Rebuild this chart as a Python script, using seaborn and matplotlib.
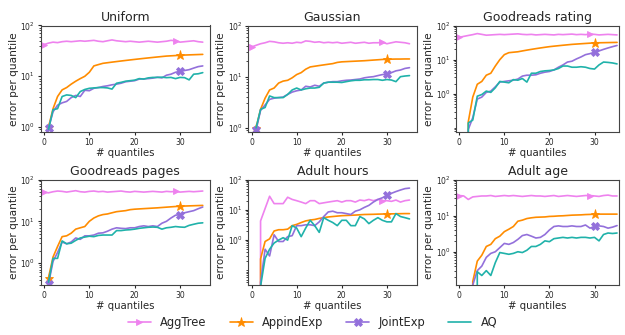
import numpy as np
import pandas as pd
import matplotlib
matplotlib.use("Agg")
import matplotlib.pyplot as plt
import seaborn as sns
from matplotlib.ticker import FixedLocator, NullFormatter, LogFormatterSciNotation

titles = ["Uniform", "Gaussian", "Goodreads rating", "Goodreads pages", "Adult hours", "Adult age"]
series_names = ["AggTree", "AppindExp", "JointExp", "AQ"]
x_agg = list(range(0, 36))
x_other = list(range(1, 36))

aggtree = [
    [42, 45, 47, 46, 48, 49, 48, 49, 50, 49, 50, 51, 49, 48, 50, 52, 50, 49, 48, 49, 48, 47, 48, 49, 48, 47, 48, 49, 51, 50, 47, 48, 49, 50, 48, 47],
    [38, 41, 44, 46, 49, 48, 46, 45, 46, 45, 47, 46, 50, 49, 47, 48, 46, 47, 46, 47, 45, 46, 47, 45, 46, 47, 45, 46, 46, 47, 44, 46, 48, 47, 46, 44],
    [45, 48, 51, 54, 58, 55, 52, 53, 54, 55, 54, 55, 56, 57, 55, 54, 55, 53, 54, 55, 54, 53, 55, 54, 55, 56, 54, 55, 54, 56, 55, 53, 54, 55, 54, 53],
    [50, 48, 51, 53, 52, 50, 52, 54, 51, 50, 52, 53, 51, 52, 50, 51, 52, 53, 51, 50, 52, 51, 50, 51, 52, 51, 50, 52, 51, 52, 50, 51, 52, 51, 52, 53],
    [0, 0, 4.3, 11, 28, 16, 16, 16, 26, 22, 20, 18, 16, 20, 20, 16, 17, 18, 19, 20, 18, 20, 20, 18, 21, 20, 22, 20, 22, 20, 20, 19, 21, 18, 20, 21],
    [36, 35, 28, 33, 34, 35, 35, 36, 34, 35, 36, 35, 36, 35, 34, 35, 36, 35, 35, 34, 35, 36, 34, 35, 36, 35, 34, 35, 36, 36, 35, 34, 36, 37, 35, 35],
]

appindexp = [
    [1.0, 2.3, 4.0, 5.4, 6.0, 7.0, 8.0, 9.0, 10.0, 12.0, 16.0, 17.0, 18.0, 18.5, 19.0, 19.5, 20.0, 20.5, 21.0, 21.5, 22.0, 22.5, 23.0, 23.5, 24.0, 24.5, 25.0, 25.3, 25.6, 26.0, 26.2, 26.4, 26.6, 26.8, 27.0],
    [1.0, 2.3, 3.8, 5.5, 6.0, 7.5, 8.2, 8.5, 9.5, 11.0, 12.0, 14.0, 15.5, 16.0, 16.5, 17.0, 17.5, 18.0, 19.0, 19.5, 19.7, 19.9, 20.1, 20.3, 20.5, 20.8, 21.1, 21.4, 21.7, 22.0, 22.0, 22.1, 22.1, 22.2, 22.2],
    [0, 0.15, 0.8, 1.9, 2.3, 3.5, 4.0, 6.5, 10.0, 14.0, 16.0, 16.5, 17.0, 18.0, 19.0, 20.0, 21.0, 22.0, 23.0, 24.0, 24.8, 25.6, 26.4, 27.2, 28.0, 28.6, 29.2, 29.8, 30.4, 31.0, 31.2, 31.4, 31.6, 31.8, 32.0],
    [0.45, 1.4, 2.5, 4.3, 4.5, 5.2, 6.5, 7.0, 7.5, 10.0, 12.0, 13.5, 14.5, 15.0, 16.0, 17.0, 17.5, 18.0, 19.0, 19.5, 19.8, 20.1, 20.4, 20.7, 21.0, 21.4, 21.8, 22.2, 22.6, 23.0, 23.2, 23.4, 23.6, 23.8, 24.0],
    [0, 0.24, 0.9, 1.1, 2.0, 2.2, 2.2, 2.3, 3.0, 3.3, 3.8, 4.3, 4.6, 4.8, 5.2, 5.5, 5.8, 6.0, 6.2, 6.4, 6.5, 6.6, 6.7, 6.85, 7.0, 7.05, 7.1, 7.2, 7.25, 7.3, 7.35, 7.4, 7.45, 7.5, 7.5],
    [0, 0, 0.15, 0.55, 0.8, 1.4, 1.6, 2.3, 2.7, 3.6, 4.2, 5.0, 7.0, 7.5, 8.3, 8.7, 9.0, 9.1, 9.2, 9.5, 9.6, 9.8, 9.9, 10.1, 10.3, 10.4, 10.5, 10.7, 10.8, 11.0, 11.0, 11.0, 11.0, 11.0, 11.0],
]

jointexp = [
    [0.95, 2.0, 2.7, 3.0, 3.2, 3.8, 4.2, 4.0, 5.3, 5.2, 5.8, 6.0, 6.3, 6.5, 6.8, 7.0, 7.3, 7.8, 8.0, 8.2, 8.8, 8.9, 9.0, 9.2, 9.6, 9.3, 10.5, 11.0, 12.0, 12.5, 13.0, 13.5, 14.5, 15.5, 16.0],
    [0.9, 2.2, 2.8, 3.6, 3.8, 3.9, 4.0, 4.5, 5.0, 5.3, 5.5, 6.5, 6.3, 6.8, 6.5, 7.5, 7.8, 8.0, 8.0, 8.3, 8.5, 8.6, 8.8, 9.0, 9.5, 9.8, 10.0, 10.5, 11.0, 11.2, 12.0, 13.0, 13.5, 14.5, 15.0],
    [0, 0.09, 0.2, 0.7, 0.8, 1.1, 1.2, 1.6, 2.2, 2.3, 2.4, 2.5, 2.7, 3.3, 3.5, 3.5, 3.6, 4.0, 4.3, 4.5, 5.0, 6.0, 7.0, 8.5, 9.0, 10.5, 12.0, 14.0, 15.0, 16.5, 18.0, 20.0, 22.0, 24.0, 26.0],
    [0.32, 1.1, 1.8, 3.2, 2.9, 3.2, 4.0, 3.7, 4.5, 4.5, 4.7, 5.2, 5.3, 5.8, 6.5, 7.0, 6.8, 6.7, 7.0, 7.0, 7.5, 7.8, 7.5, 7.8, 7.5, 9.0, 10.0, 12.0, 14.0, 14.5, 16.0, 17.0, 18.0, 20.0, 22.0],
    [0, 0.04, 0.5, 0.3, 1.5, 0.9, 0.9, 1.3, 1.4, 3.0, 3.0, 3.2, 3.2, 3.0, 4.0, 6.0, 8.5, 9.0, 8.0, 8.0, 7.5, 7.0, 9.0, 10.0, 12.0, 14.0, 18.0, 22.0, 25.0, 30.0, 35.0, 40.0, 45.0, 50.0, 52.0],
    [0, 0, 0.12, 0.3, 0.4, 0.7, 0.9, 1.0, 1.3, 1.7, 1.6, 1.8, 2.2, 2.8, 3.0, 2.7, 2.4, 2.5, 3.0, 4.0, 5.0, 5.2, 5.0, 5.0, 5.2, 5.0, 5.0, 5.5, 4.5, 5.0, 5.2, 5.0, 4.5, 4.8, 5.3],
]

aq = [
    [0.9, 2.2, 2.3, 4.0, 4.3, 4.2, 3.8, 5.0, 5.5, 5.8, 5.9, 6.0, 6.0, 5.9, 5.6, 7.3, 7.6, 8.0, 8.2, 8.4, 9.0, 8.8, 9.3, 9.5, 9.5, 9.6, 9.4, 9.5, 9.0, 9.5, 9.4, 8.5, 11.0, 11.2, 11.8],
    [1.0, 2.3, 2.5, 4.2, 3.9, 3.9, 3.9, 4.5, 5.5, 6.0, 5.5, 5.8, 6.0, 6.0, 6.2, 7.5, 7.8, 7.8, 7.8, 7.7, 8.0, 8.3, 8.5, 8.5, 8.7, 8.7, 8.8, 8.8, 8.5, 8.8, 8.6, 8.0, 10.0, 10.3, 10.5],
    [0, 0.14, 0.17, 0.85, 0.95, 1.2, 1.1, 1.5, 2.3, 2.2, 2.1, 2.6, 2.5, 2.8, 2.2, 4.0, 4.0, 4.5, 4.7, 4.8, 5.0, 5.5, 6.5, 6.5, 6.0, 6.0, 6.2, 6.0, 5.5, 5.3, 7.0, 8.5, 8.3, 8.0, 7.5],
    [0.35, 1.3, 1.3, 3.4, 2.9, 3.0, 3.5, 4.0, 4.2, 4.4, 4.3, 4.6, 4.7, 4.7, 4.7, 6.0, 6.0, 6.2, 6.3, 6.5, 6.8, 7.0, 7.2, 7.3, 7.2, 6.5, 7.0, 7.2, 7.5, 7.3, 7.2, 8.0, 8.5, 9.0, 9.2],
    [0, 0.03, 0.25, 0.5, 0.8, 1.0, 1.2, 1.0, 3.0, 2.5, 1.3, 2.5, 4.5, 3.0, 1.8, 5.5, 4.5, 3.8, 3.0, 4.5, 4.5, 3.0, 3.0, 6.0, 5.0, 3.5, 4.5, 5.5, 4.5, 4.0, 4.0, 7.5, 6.0, 5.5, 5.0],
    [0, 0, 0, 0.28, 0.22, 0.3, 0.22, 0.5, 0.95, 0.9, 0.85, 0.9, 1.0, 0.95, 1.1, 1.4, 1.4, 1.6, 2.0, 1.9, 2.3, 2.4, 2.5, 2.4, 2.5, 2.4, 2.5, 2.5, 2.4, 2.5, 2.0, 3.0, 3.3, 3.2, 3.3],
]

ybottoms = [0.8, 0.83, 0.076, 0.3, 0.033, 0.12]
major_yticks = [1, 10, 100]

colors = {"AggTree": "#ee82ee", "AppindExp": "#ff8c00", "JointExp": "#9370db", "AQ": "#20b2aa"}
markers = {"AggTree": ">", "AppindExp": "*", "JointExp": "X", "AQ": None}
msizes = {"AggTree": 5, "AppindExp": 6.5, "JointExp": 5.5}

sns.set_style("ticks")
plt.rcParams["font.family"] = ["DejaVu Sans"]

W, H = 625, 335
fig = plt.figure(figsize=(6.25, 3.35), dpi=100)
col_boxes = [(40.7, 169.3, 36.6), (248.3, 168.4, 36.6), (456.0, 163.3, 35.5)]
row_boxes = [(25.5, 106.5), (179.5, 105.5)]
axes = []
for r in range(2):
    for c in range(3):
        l, w, xr = col_boxes[c]
        t, h = row_boxes[r]
        ax = fig.add_axes([l / W, 1 - (t + h) / H, w / W, h / H])
        axes.append((ax, xr))

minor_vals = [m * 10.0 ** e for e in range(-3, 3) for m in range(1, 10) if m * 10.0 ** e not in major_yticks]

for i, (ax, xr) in enumerate(axes):
    data_map = {
        "AggTree": (x_agg, aggtree[i]),
        "AppindExp": (x_other, appindexp[i]),
        "JointExp": (x_other, jointexp[i]),
        "AQ": (x_other, aq[i]),
    }
    for name in series_names:
        xs, ys = data_map[name]
        df = pd.DataFrame({"x": xs, "y": ys})
        if markers[name]:
            kw = dict(marker=markers[name], markevery=[0, 29], markersize=msizes[name],
                      markeredgecolor=colors[name], markeredgewidth=0.6)
        else:
            kw = {}
        sns.lineplot(data=df, x="x", y="y", ax=ax, color=colors[name], lw=1.2,
                     label=name, errorbar=None, sort=False, **kw)
    ax.set_yscale("log")
    ax.set_ylim(ybottoms[i], 100)
    ax.set_xlim(-0.72, xr)
    ax.set_xticks([0, 10, 20, 30])
    ax.yaxis.set_major_locator(FixedLocator(major_yticks))
    ax.yaxis.set_major_formatter(LogFormatterSciNotation())
    ax.yaxis.set_minor_locator(FixedLocator(minor_vals))
    ax.yaxis.set_minor_formatter(NullFormatter())
    ax.set_title(titles[i], fontsize=9, pad=3)
    ax.set_xlabel("# quantiles", fontsize=7.3, labelpad=1)
    ax.set_ylabel("error per quantile", fontsize=7.6, labelpad=1)
    ax.tick_params(axis="both", which="major", labelsize=5.5, length=2.5, pad=1.5)
    ax.tick_params(axis="y", which="minor", length=1.5)
    for s in ax.spines.values():
        s.set_visible(True)
        s.set_color("#444444")
        s.set_linewidth(0.8)
    handles, labels = ax.get_legend_handles_labels()
    ax.get_legend().remove()

fig.legend(handles, labels, loc="center", bbox_to_anchor=(0.5, 0.038), ncol=4, frameon=False,
           fontsize=8.3, handlelength=2.0, handletextpad=0.8, columnspacing=2.0)

fig.savefig("out.png", dpi=100)
